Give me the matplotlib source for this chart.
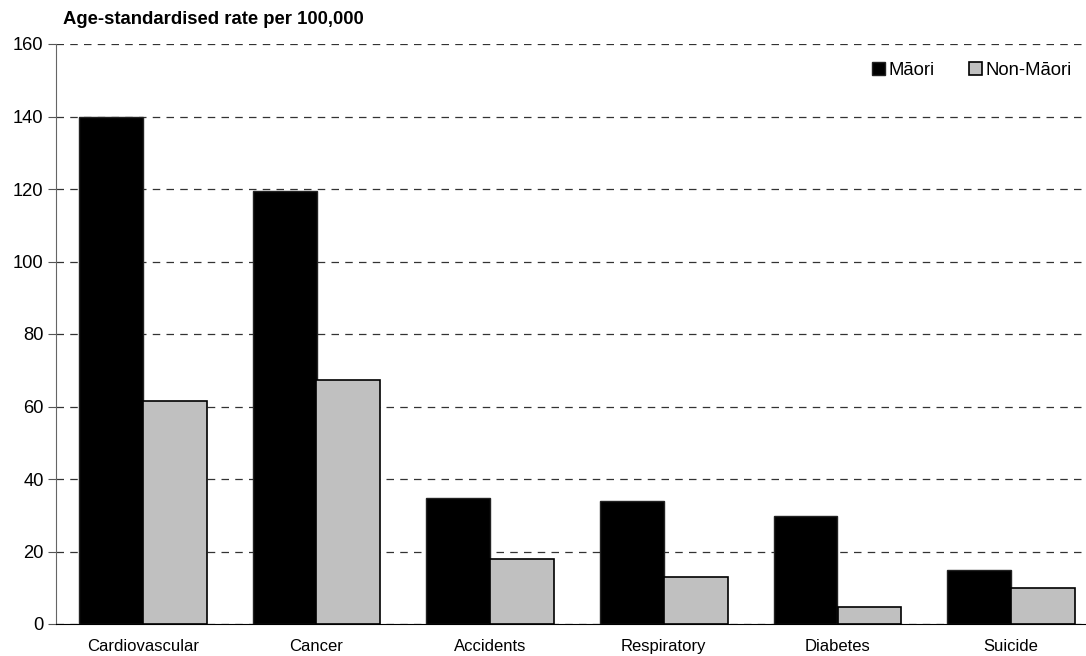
import matplotlib
matplotlib.use("Agg")
import matplotlib.pyplot as plt
import numpy as np

categories = ["Cardiovascular", "Cancer", "Accidents", "Respiratory", "Diabetes", "Suicide"]
maori = [140.0, 119.4, 34.7, 33.9, 29.7, 14.9]
non_maori = [61.4, 67.3, 17.8, 13.0, 4.6, 10.0]
yticks = [0, 20, 40, 60, 80, 100, 120, 140, 160]

plt.rcParams["font.family"] = ["Liberation Sans", "DejaVu Sans"]

fig = plt.figure(figsize=(10.86, 6.56), dpi=100)
# plot area runs past the right edge of the picture, as in the original
ax = fig.add_axes([56 / 1086, 1 - 624 / 656, 1042 / 1086, 580 / 656])

x = np.arange(len(categories))
w = 0.368
ax.bar(x - w / 2, maori, w, color="black", edgecolor="#222222", linewidth=1, label="Māori", zorder=3)
ax.bar(x + w / 2, non_maori, w, color="#c0c0c0", edgecolor="black", linewidth=1.2, label="Non-Māori", zorder=3)

ax.set_xlim(-0.5, len(categories) - 0.5)
ax.set_ylim(0, 160)
ax.set_yticks(yticks)
ax.set_xticks(x)
ax.set_xticklabels(categories, fontsize=12)
ax.tick_params(axis="y", labelsize=13.2, length=6, color="#555555", pad=3)
ax.tick_params(axis="x", length=0, pad=11)

ax.grid(axis="y", color="#333333", linestyle=(0, (6, 5)), linewidth=0.9, zorder=0)
for s in ["top", "right"]:
    ax.spines[s].set_visible(False)
ax.spines["left"].set_color("#666666")
ax.spines["bottom"].set_color("black")

fig.text(63 / 1086, 1 - 20 / 656, "Age-standardised rate per 100,000",
         fontsize=13.3, fontweight="bold", va="center", ha="left")

leg = ax.legend(loc="center right", bbox_to_anchor=(0.975, 0.955), ncol=2, frameon=False,
                fontsize=13.3, handlelength=0.7, handleheight=0.7, handletextpad=0.18,
                columnspacing=1.9, borderpad=0, borderaxespad=0)

fig.savefig("out.png", dpi=100)
